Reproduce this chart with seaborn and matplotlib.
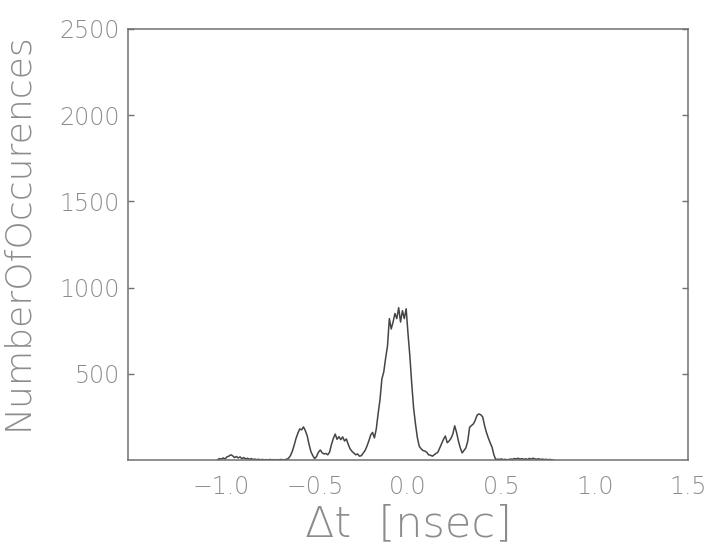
import numpy as np
import pandas as pd
import matplotlib
matplotlib.use("Agg")
import matplotlib.pyplot as plt
import seaborn as sns

# histogram counts per 0.01 ns bin, from -1.02 ns to 0.78 ns
t_start = -1.02
t_end = 0.78
counts = [
    2, 8, 4, 12, 6, 18, 22, 30, 25, 14, 20, 12, 18, 8, 14, 6, 10, 4, 8, 3,
    5, 2, 4, 1, 3, 1, 2, 0, 3, 1, 2, 0, 2, 1, 3, 1, 2, 4, 10, 25,
    50, 85, 125, 155, 180, 175, 192, 170, 140, 90, 48, 25, 8, 20, 45, 58, 42, 35, 38, 30,
    46, 90, 125, 150, 120, 135, 118, 134, 110, 122, 90, 64, 50, 40, 30, 35, 22, 25, 40, 55,
    80, 110, 145, 160, 128, 180, 270, 350, 470, 510, 590, 660, 820, 760, 800, 850, 820, 883, 800, 866,
    820, 877, 733, 600, 442, 300, 209, 130, 80, 65, 55, 52, 45, 30, 28, 22, 30, 38, 45, 70,
    95, 120, 139, 100, 110, 125, 150, 198, 160, 110, 70, 41, 55, 70, 110, 190, 200, 209, 230, 260,
    267, 262, 250, 200, 160, 128, 100, 75, 30, 2, 5, 3, 6, 2, 4, 1, 3, 5, 4, 8,
    6, 10, 5, 8, 4, 7, 3, 9, 5, 10, 6, 4, 7, 3, 5, 2, 4, 1, 3, 1, 0,
]
dt = np.round(np.linspace(t_start, t_end, len(counts)), 2)

x_ticks = [-1.0, -0.5, 0.0, 0.5, 1.0, 1.5]
x_ticklabels = ["\u22121.0", "\u22120.5", "0.0", "0.5", "1.0", "1.5"]
y_ticks = [500, 1000, 1500, 2000, 2500]
y_ticklabels = ["500", "1000", "1500", "2000", "2500"]

df = pd.DataFrame({"dt": dt, "n": counts})

sns.set_theme(style="white")
plt.rcParams["font.family"] = ["DejaVu Sans"]
plt.rcParams["font.weight"] = "light"

text_gray = "#8c8c8c"
fig = plt.figure(figsize=(7.13, 5.52), dpi=100)
ax = fig.add_axes([0.1795, 0.1667, 0.7855, 0.7808])

sns.lineplot(data=df, x="dt", y="n", ax=ax, color="#454545", linewidth=1.1)

ax.set_xlim(-1.5, 1.5)
ax.set_ylim(0, 2500)
ax.set_xticks(x_ticks)
ax.set_xticklabels(x_ticklabels)
ax.set_yticks(y_ticks)
ax.set_yticklabels(y_ticklabels)

ax.tick_params(axis="both", direction="in", length=4, width=1, color="#707070",
               labelcolor=text_gray, labelsize=17)
ax.tick_params(axis="x", pad=11)
ax.tick_params(axis="y", pad=6)
ax.yaxis.set_ticks_position("both")

for s in ax.spines.values():
    s.set_color("#707070")
    s.set_linewidth(1.1)
    s.set_visible(True)

ax.set_xlabel("\u0394t  [nsec]", fontsize=31, color=text_gray, fontweight="light")
ax.set_ylabel("NumberOfOccurences", fontsize=26, color=text_gray, fontweight="light")
ax.xaxis.set_label_coords(0.5, -0.1)
ax.yaxis.set_label_coords(-0.168, 0.53)

fig.savefig("out.png", dpi=100)
